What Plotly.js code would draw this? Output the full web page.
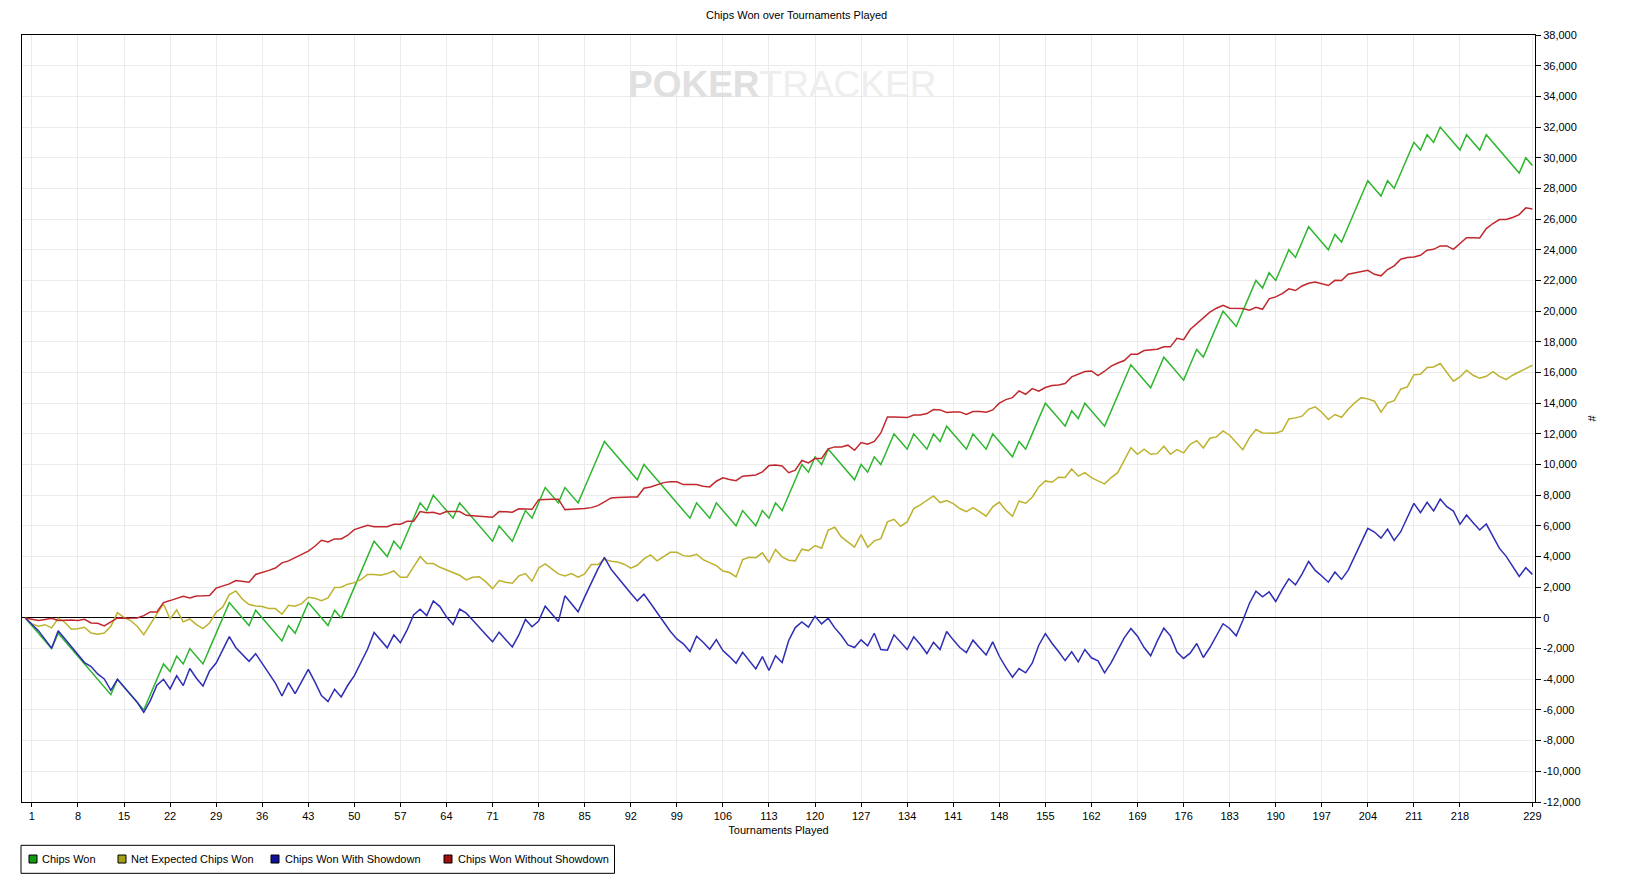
<!DOCTYPE html>
<html>
<head>
<meta charset="utf-8">
<script src="https://cdn.plot.ly/plotly-3.0.1.min.js"></script>
<style>
  html, body { margin: 0; padding: 0; background: #fff; }
  #chart { width: 1638px; height: 894px; }
</style>
</head>
<body>
<div id="chart"></div>
<script>
// values, tournament 0..229
var chipsWon = [0,-500,-1000,-1500,-2000,-1000,-1500,-2000,-2500,-3000,
  -3500,-4000,-4500,-5000,-4000,-4500,-5000,-5500,-6000,-5000,
  -4000,-3000,-3500,-2500,-3000,-2000,-2500,-3000,-2000,-1000,
  0,1000,500,0,-500,500,0,-500,-1000,-1500,
  -500,-1000,0,1000,500,0,-500,500,0,1000,
  2000,3000,4000,5000,4500,4000,5000,4500,5500,6500,
  7500,7000,8000,7500,7000,6500,7500,7000,6500,6000,
  5500,5000,6000,5500,5000,6000,7000,6500,7500,8500,
  8000,7500,8500,8000,7500,8500,9500,10500,11500,11000,
  10500,10000,9500,9000,10000,9500,9000,8500,8000,7500,
  7000,6500,7500,7000,6500,7500,7000,6500,6000,7000,
  6500,6000,7000,6500,7500,7000,8000,9000,10000,9500,
  10500,10000,11000,10500,10000,9500,9000,10000,9500,10500,
  10000,11000,12000,11500,11000,12000,11500,11000,12000,11500,
  12500,12000,11500,11000,12000,11500,11000,12000,11500,11000,
  10500,11500,11000,12000,13000,14000,13500,13000,12500,13500,
  13000,14000,13500,13000,12500,13500,14500,15500,16500,16000,
  15500,15000,16000,17000,16500,16000,15500,16500,17500,17000,
  18000,19000,20000,19500,19000,20000,21000,22000,21500,22500,
  22000,23000,24000,23500,24500,25500,25000,24500,24000,25000,
  24500,25500,26500,27500,28500,28000,27500,28500,28000,29000,
  30000,31000,30500,31500,31000,32000,31500,31000,30500,31500,
  31000,30500,31500,31000,30500,30000,29500,29000,30000,29500];

var netExpected = [0,-390,-540,-440,-650,-20,-280,-740,-700,-610,
  -980,-1070,-980,-540,350,40,-170,-540,-1090,-390,
  260,910,-70,520,-260,-70,-440,-700,-330,370,
  700,1520,1760,1220,870,780,740,610,610,240,
  830,760,930,1350,1280,1130,1300,1980,2000,2200,
  2300,2500,2830,2830,2780,2890,3060,2650,2650,3330,
  4000,3540,3540,3300,3130,2930,2780,2480,2650,2690,
  2350,1910,2430,2330,2260,2740,2890,2390,3260,3520,
  3170,2870,2740,2890,2650,2870,3480,3480,3820,3690,
  3650,3500,3240,3430,3850,4110,3720,4020,4280,4280,
  4060,4020,4150,3800,3610,3410,3060,2960,2670,3800,
  3950,3930,4240,3630,4460,3980,3760,3720,4480,4390,
  4720,4540,5720,5910,5280,4950,4610,5430,4610,5020,
  5170,6260,6430,5980,6260,7130,7370,7670,7950,7520,
  7650,7450,7130,6930,7190,6930,6630,7240,7550,7020,
  6630,7610,7480,7870,8540,8930,8840,9170,9150,9710,
  9240,9470,9150,8930,8740,9150,9470,10280,11100,10670,
  11000,10670,10710,11190,10670,10970,10760,11320,11560,11080,
  11710,11800,12190,11910,11470,10970,11740,12280,12060,12040,
  12040,12190,12970,13040,13150,13600,13760,13410,12930,13260,
  13080,13580,14020,14360,14280,14130,13410,14020,14160,14910,
  15060,15860,15890,16320,16360,16580,16040,15430,15710,16150,
  15820,15620,15750,16060,15750,15540,15820,16040,16250,16470];

var withShowdown = [0,-400,-830,-1400,-1980,-830,-1350,-1870,-2330,-2910,
  -3170,-3650,-3980,-4720,-4000,-4480,-4980,-5500,-6150,-5390,
  -4390,-4000,-4630,-3770,-4410,-3300,-3930,-4440,-3460,-2940,
  -2080,-1220,-1940,-2400,-2830,-2330,-2950,-3600,-4250,-5090,
  -4220,-4930,-4090,-3350,-4170,-5060,-5450,-4650,-5150,-4390,
  -3760,-2890,-2040,-950,-1450,-1950,-1110,-1610,-800,200,
  570,150,1110,740,70,-430,570,310,-150,-590,
  -1090,-1560,-930,-1420,-1890,-1110,-100,-580,-210,760,
  260,-240,1440,920,400,1370,2310,3180,3940,3180,
  2650,2110,1610,1110,1550,960,330,-320,-870,-1370,
  -1690,-2190,-1190,-1580,-2040,-1410,-2130,-2520,-2950,-2240,
  -2800,-3320,-2520,-3430,-2470,-2910,-1470,-630,-260,-600,
  110,-390,-20,-650,-1150,-1760,-1930,-1430,-1820,-1000,
  -2060,-2100,-1100,-1580,-2060,-1230,-1730,-2320,-1580,-2060,
  -890,-1430,-1930,-2260,-1450,-1950,-2410,-1560,-2500,-3230,
  -3860,-3300,-3580,-2950,-1780,-1020,-1650,-2190,-2780,-2210,
  -2860,-2060,-2600,-2800,-3580,-2910,-2120,-1280,-690,-1190,
  -1930,-2470,-1510,-670,-1170,-2230,-2640,-2300,-1670,-2580,
  -1930,-1190,-380,-690,-1170,-170,940,1750,1380,1700,
  1070,1860,2550,2160,2860,3680,3100,2730,2330,2990,
  2510,3100,4010,4920,5840,5600,5200,5790,5050,5620,
  6510,7470,6860,7530,6970,7750,7250,6970,6100,6710,
  6210,5730,6120,5290,4530,4030,3400,2710,3270,2840];

var withoutShowdown = [0,-100,-170,-100,-20,-170,-150,-130,-170,-90,
  -330,-350,-520,-280,0,-20,-20,0,150,390,
  390,1000,1130,1270,1410,1300,1430,1440,1460,1940,
  2080,2220,2440,2400,2330,2830,2950,3100,3250,3590,
  3720,3930,4090,4350,4670,5060,4950,5150,5150,5390,
  5760,5890,6040,5950,5950,5950,6110,6110,6300,6300,
  6930,6850,6890,6760,6930,6930,6930,6690,6650,6590,
  6590,6560,6930,6920,6890,7110,7100,7080,7710,7740,
  7740,7740,7060,7080,7100,7130,7190,7320,7560,7820,
  7850,7890,7890,7890,8450,8540,8670,8820,8870,8870,
  8690,8690,8690,8580,8540,8910,9130,9020,8950,9240,
  9300,9320,9520,9930,9970,9910,9470,9630,10260,10100,
  10390,10390,11020,11150,11150,11260,10930,11430,11320,11500,
  12060,13100,13100,13080,13060,13230,13230,13320,13580,13560,
  13390,13430,13430,13260,13450,13450,13410,13560,14000,14230,
  14360,14800,14580,14950,14780,15020,15150,15190,15280,15710,
  15860,16060,16100,15800,16080,16410,16620,16780,17190,17190,
  17430,17470,17510,17670,17670,18230,18140,18800,19170,19580,
  19930,20190,20380,20190,20170,20170,20060,20250,20120,20800,
  20930,21140,21450,21340,21640,21820,21900,21770,21670,22010,
  21990,22400,22490,22580,22660,22400,22300,22710,22950,23380,
  23490,23530,23640,23970,24030,24250,24250,24030,24400,24790,
  24790,24770,25380,25710,25970,25970,26100,26290,26730,26660];

var xTicks = [1,8,15,22,29,36,43,50,57,64,71,78,85,92,99,106,113,120,127,
  134,141,148,155,162,169,176,183,190,197,204,211,218,229];
var yTicks = [-12000,-10000,-8000,-6000,-4000,-2000,0,2000,4000,6000,8000,
  10000,12000,14000,16000,18000,20000,22000,24000,26000,28000,30000,
  32000,34000,36000,38000];

var seriesNames = ["Chips Won", "Net Expected Chips Won", "Chips Won With Showdown", "Chips Won Without Showdown"];
var lineColors = ["#2fb62f", "#bdb22e", "#2e2eb4", "#c0282d"];
var swatchColors = ["#0f9a0f", "#a3a014", "#10109a", "#a00f0f"];

var tournaments = chipsWon.map(function (v, i) { return i; });
var font = "Liberation Sans, Arial, sans-serif";

// plot area in pixels, used to place the hand-made legend
var L = 22, R = 1535, T = 35, B = 801.7;
function px(x) { return (x - L) / (R - L); }
function py(y) { return (B - y) / (B - T); }

var data = [chipsWon, netExpected, withShowdown, withoutShowdown].map(function (y, i) {
  return {
    type: "scatter", mode: "lines", name: seriesNames[i],
    x: tournaments, y: y,
    line: { color: lineColors[i], width: 1.5 },
    hoverinfo: "skip"
  };
});

// legend: box, square swatches, labels
var swatchX = [29, 118, 271, 444];
var labelX = [40, 129, 283, 456];
var legY = 858.7;
var shapes = [{
  type: "rect", xref: "paper", yref: "paper",
  x0: px(21), x1: px(614.5), y0: py(845), y1: py(873),
  line: { color: "#000", width: 1 }, fillcolor: "#fff"
}];
var annotations = [{
  xref: "paper", yref: "paper", x: 0.502, y: 0.935, yanchor: "middle",
  text: "<b>POKER</b><span style=\"color:#eeeeee\">TRACKER</span>",
  showarrow: false,
  font: { family: font, size: 37, color: "#e0e0e0" }
}];
seriesNames.forEach(function (name, i) {
  shapes.push({
    type: "rect", xref: "paper", yref: "paper",
    x0: px(swatchX[i]), x1: px(swatchX[i] + 8), y0: py(legY + 4), y1: py(legY - 4),
    line: { color: "#000", width: 1 }, fillcolor: swatchColors[i]
  });
  annotations.push({
    xref: "paper", yref: "paper", x: px(labelX[i]), y: py(legY),
    xanchor: "left", yanchor: "middle", showarrow: false,
    text: name, font: { family: font, size: 11, color: "#000" }
  });
});

var layout = {
  width: 1638,
  height: 894,
  margin: { t: 35, r: 103, l: 22, b: 92 },
  paper_bgcolor: "#fff",
  plot_bgcolor: "#fff",
  font: { family: font, size: 11, color: "#000" },
  title: {
    text: "Chips Won over Tournaments Played",
    font: { family: font, size: 11, color: "#000" },
    xref: "paper", x: 0.512, yref: "container", y: 0.983, yanchor: "middle"
  },
  xaxis: {
    range: [-0.5, 229.4],
    tickmode: "array", tickvals: xTicks,
    ticks: "outside", ticklen: 4, tickcolor: "#000",
    showgrid: true, gridcolor: "#ebebeb", gridwidth: 1,
    zeroline: false,
    showline: true, linecolor: "#000", linewidth: 1, mirror: true,
    tickfont: { family: font, size: 11, color: "#000" },
    title: { text: "Tournaments Played", standoff: 5, font: { family: font, size: 11, color: "#000" } },
    automargin: false
  },
  yaxis: {
    side: "right",
    range: [-12000, 38000],
    tickmode: "array", tickvals: yTicks,
    ticktext: yTicks.map(function (v) { return (v < 0 ? "-" : "") + Math.abs(v).toLocaleString("en-US"); }),
    ticks: "outside", ticklen: 5, tickcolor: "#000",
    showgrid: true, gridcolor: "#ebebeb", gridwidth: 1,
    zeroline: true, zerolinecolor: "#000", zerolinewidth: 1,
    showline: true, linecolor: "#000", linewidth: 1, mirror: true,
    tickfont: { family: font, size: 11, color: "#000" },
    title: { text: "#", standoff: 8, font: { family: font, size: 11, color: "#000" } },
    automargin: false
  },
  showlegend: false,
  shapes: shapes,
  annotations: annotations,
  hovermode: false
};

Plotly.newPlot("chart", data, layout, { displayModeBar: false, staticPlot: true });
</script>
</body>
</html>
